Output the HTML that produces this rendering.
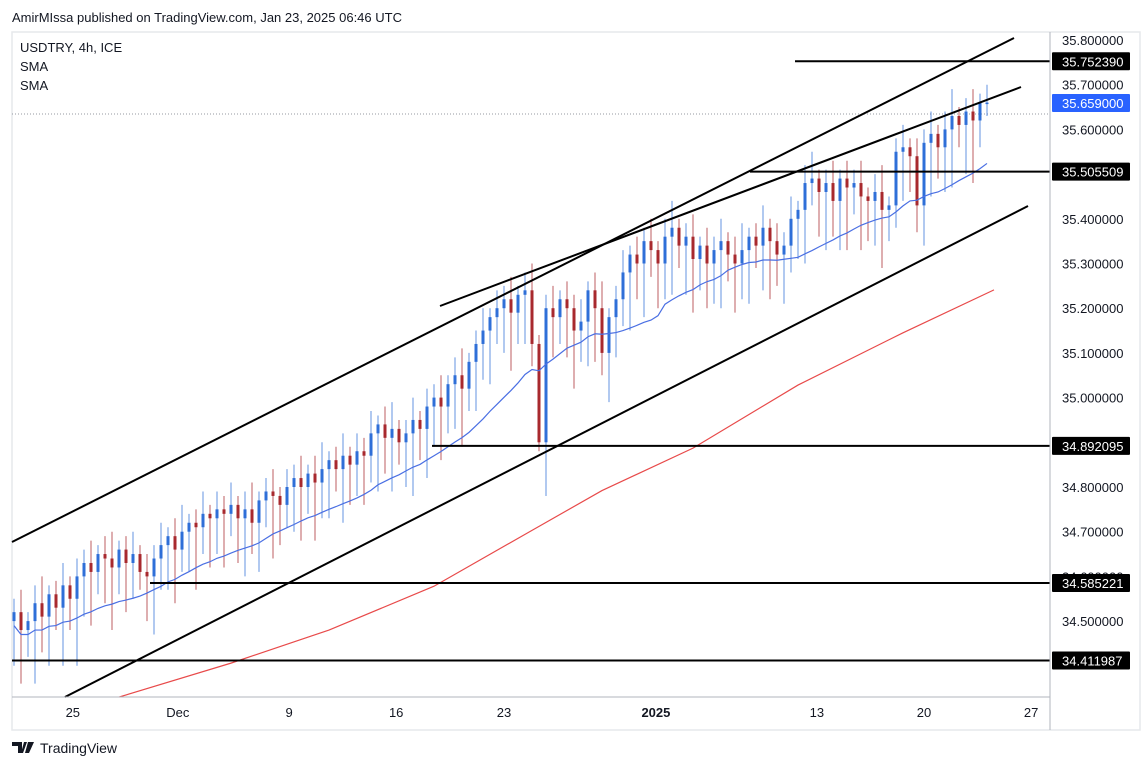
<!DOCTYPE html>
<html><head><meta charset="utf-8">
<style>
body{margin:0;background:#fff;font-family:"Liberation Sans","DejaVu Sans",sans-serif;}
svg{display:block}
</style></head>
<body>
<svg id="chart" width="1145" height="768" viewBox="0 0 1145 768" xmlns="http://www.w3.org/2000/svg">
<rect x="0" y="0" width="1145" height="768" fill="#fff"/>
<text x="12" y="22" font-size="13" fill="#131722">AmirMIssa published on TradingView.com, Jan 23, 2025 06:46 UTC</text>
<rect x="12" y="32" width="1128" height="698" fill="none" stroke="#e6e8ec" stroke-width="1.5"/>
<line x1="12" y1="114" x2="1050" y2="114" stroke="#9598a1" stroke-dasharray="1,2"/>
<g id="sma-red"></g>
<g id="candles"></g>
<g id="sma-blue"></g>
<g id="drawings"></g>
<line x1="1050" y1="32" x2="1050" y2="730" stroke="#b2b5be"/>
<line x1="12" y1="697" x2="1050" y2="697" stroke="#b2b5be"/>
<g id="yaxis"></g>
<g id="xaxis"></g>
<g font-size="13" fill="#131722">
<text x="20" y="52">USDTRY, 4h, ICE</text>
<text x="20" y="71">SMA</text>
<text x="20" y="90">SMA</text>
</g>
<g>
<path d="M12 742h10v11h-4v-7h-6z M24 742h3l-4 11h-2z M28 742h6l-5 11h-4z" fill="#131722"/>
<text x="40" y="753" font-size="14" fill="#131722">TradingView</text>
</g>
</svg>
<script>
const closes=[34.52,34.48,34.50,34.54,34.51,34.56,34.53,34.58,34.55,34.60,
34.63,34.61,34.65,34.64,34.62,34.66,34.63,34.65,34.61,34.60,
34.64,34.67,34.69,34.66,34.70,34.72,34.71,34.74,34.73,34.75,
34.74,34.76,34.73,34.75,34.72,34.77,34.79,34.78,34.76,34.80,
34.82,34.80,34.83,34.81,34.84,34.86,34.84,34.87,34.85,34.88,
34.87,34.92,34.94,34.91,34.93,34.90,34.92,34.95,34.93,34.98,
35.00,34.98,35.03,35.05,35.02,35.08,35.12,35.15,35.18,35.20,
35.22,35.19,35.23,35.24,35.12,34.90,35.20,35.18,35.22,35.20,
35.15,35.17,35.24,35.20,35.10,35.18,35.22,35.28,35.32,35.30,
35.35,35.33,35.30,35.36,35.38,35.34,35.36,35.31,35.34,35.30,
35.33,35.35,35.32,35.30,35.33,35.36,35.34,35.38,35.35,35.32,
35.34,35.40,35.42,35.48,35.49,35.46,35.48,35.44,35.49,35.47,
35.48,35.45,35.44,35.46,35.42,35.43,35.55,35.56,35.54,35.43,
35.57,35.59,35.56,35.60,35.63,35.61,35.64,35.62,35.66,35.66];
const lowWicks=[0.10,0.12,0.06,0.14,0.08,0.11,0.05,0.13,0.07,0.15,
0.09,0.12,0.05,0.10,0.14,0.06,0.11,0.08,0.04,0.10,
0.13,0.07,0.10,0.12,0.05,0.09,0.14,0.06,0.11,0.08,
0.12,0.05,0.10,0.13,0.07,0.11,0.06,0.14,0.09,0.05,
0.10,0.12,0.06,0.13,0.08,0.11,0.05,0.12,0.09,0.07,
0.11,0.06,0.13,0.08,0.12,0.05,0.10,0.14,0.07,0.11,
0.09,0.12,0.06,0.10,0.13,0.05,0.11,0.08,0.12,0.06,
0.10,0.13,0.07,0.11,0.05,0.02,0.12,0.09,0.06,0.11,
0.13,0.07,0.10,0.12,0.05,0.11,0.09,0.06,0.13,0.08,
0.12,0.06,0.10,0.08,0.13,0.05,0.11,0.12,0.07,0.10,
0.09,0.13,0.06,0.11,0.08,0.12,0.05,0.10,0.13,0.07,
0.11,0.06,0.09,0.12,0.05,0.10,0.13,0.08,0.11,0.14,
0.06,0.12,0.09,0.10,0.13,0.07,0.05,0.11,0.08,0.06,
0.09,0.12,0.07,0.10,0.13,0.05,0.11,0.14,0.06,0.03];
const highWicks=[0.03,0.05,0.02,0.04,0.06,0.02,0.03,0.05,0.02,0.04];
const redSmaIdx=[15,31,45,60,74,84,97,112,127,140];
const redSmaVal=[34.330,34.406,34.480,34.578,34.703,34.792,34.887,35.028,35.145,35.241];
const yTicks=[35.8,35.7,35.6,35.4,35.3,35.2,35.1,35.0,34.8,34.7,34.6,34.5];
const xTickLabels=["25","Dec","9","16","23","2025","13","20","27"];
const xTickPos=[8.4,23.4,39.3,54.6,70,91.7,114.7,130,145.3];
const boxLabels=["35.752390","35.659000","35.505509","34.892095","34.585221","34.411987"];
const boxVals=[35.752390,35.659,35.505509,34.892095,34.585221,34.411987];
const boxColors=["#000","#2962ff","#000","#000","#000","#000"];
const hLineStart=[795,null,750,432,150,12];

const NS="http://www.w3.org/2000/svg";
const y=p=>40+(35.8-p)*447;
const x=i=>14+i*7;
function mk(tag,attrs,parent){const e=document.createElementNS(NS,tag);for(const k in attrs)e.setAttribute(k,attrs[k]);parent.appendChild(e);return e;}
const cg=document.getElementById('candles');
closes.forEach((c,i)=>{
  const o=i===0?34.50:closes[i-1];
  const up=c>=o;
  const col=up?"#2f6fd8":"#a8292e";
  const hi=Math.max(o,c)+highWicks[i%highWicks.length];
  const lo=Math.min(o,c)-lowWicks[i];
  const w=mk('line',{x1:x(i),x2:x(i),y1:y(hi),y2:Math.min(697,y(lo)),stroke:col,'stroke-width':1,opacity:0.75},cg);
  
  
  const top=y(Math.max(o,c)),bot=y(Math.min(o,c));
  const b=mk('rect',{x:x(i)-1.5,y:top,width:3,height:Math.max(1.5,bot-top),fill:col},cg);
  
  
});
const bg=document.getElementById('sma-blue');
let pts=[];
closes.forEach((c,i)=>{const s=Math.max(0,i-17);const arr=closes.slice(s,i+1);const avg=arr.reduce((a,b)=>a+b,0)/arr.length;pts.push(x(i)+','+y(avg-0.03));});
const bl=mk('polyline',{points:pts.join(' '),fill:'none',stroke:'#4a6fe3','stroke-width':1.2},bg);


const rg=document.getElementById('sma-red');
const rp=redSmaIdx.map((ix,k)=>x(ix)+','+y(redSmaVal[k])).join(' ');
const rl=mk('polyline',{points:rp,fill:'none',stroke:'#e84a4a','stroke-width':1.2},rg);


const dg=document.getElementById('drawings');
const trend=[[12,542,1014,38,'upper-channel-line'],[440,306,1021,87,'wedge-resistance-line'],[65,697,1028,206,'lower-channel-line']];
trend.forEach(t=>{const l=mk('line',{x1:t[0],y1:t[1],x2:t[2],y2:t[3],stroke:'#000','stroke-width':2},dg);

});
boxVals.forEach((v,k)=>{
  if(hLineStart[k]!==null){const l=mk('line',{x1:hLineStart[k],x2:1050,y1:y(v),y2:y(v),stroke:'#000','stroke-width':2},dg);
  
  }
});
const ya=document.getElementById('yaxis');
yTicks.forEach(t=>{const e=mk('text',{x:1062,y:y(t)+5,'font-size':13,fill:'#131722'},ya);e.textContent=t.toFixed(6);

});
boxVals.forEach((v,k)=>{
  const r=mk('rect',{x:1052,y:y(v)-9,width:78,height:18,fill:boxColors[k],rx:1},ya);
  
  
  const t=mk('text',{x:1062,y:y(v)+5,'font-size':13,fill:'#fff'},ya);t.textContent=boxLabels[k];
  
  
});
const xa=document.getElementById('xaxis');
xTickLabels.forEach((l,k)=>{const e=mk('text',{x:x(xTickPos[k]),y:717,'font-size':13,fill:'#131722','text-anchor':'middle','font-weight':l==='2025'?'bold':'normal'},xa);e.textContent=l;

});
</script>
</body></html>
